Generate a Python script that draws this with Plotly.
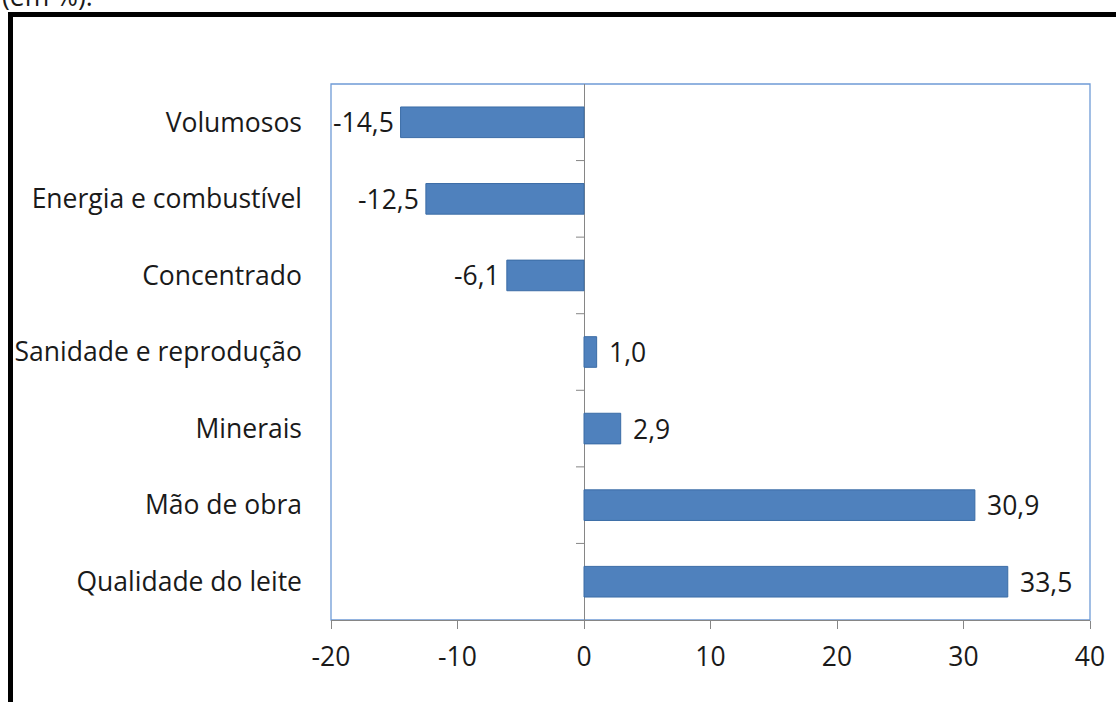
import plotly.graph_objects as go

categories = ["Volumosos", "Energia e combustível", "Concentrado",
              "Sanidade e reprodução", "Minerais", "Mão de obra", "Qualidade do leite"]
values = [-14.5, -12.5, -6.1, 1.0, 2.9, 30.9, 33.5]
x_ticks = [-20, -10, 0, 10, 20, 30, 40]

FONT = "Open Sans"
FS = 26.5
BAR = "#4F81BD"
BAR_EDGE = "#3B6CA6"
AXIS = "#868686"
BORDER = "#6F9BD6"
TXT = "#1a1a1a"

W, H = 1116, 702
L, R, T, B = 331, 26, 84, 82
pw, ph = W - L - R, H - T - B

def px_x(p):
    return (p - L) / pw

def px_y(p):
    return 1 - (p - T) / ph

fig = go.Figure()
fig.add_trace(go.Bar(
    x=values, y=categories, orientation="h",
    marker=dict(color=BAR, line=dict(color=BAR_EDGE, width=1)),
    width=0.4, hoverinfo="skip",
))

annotations = []
for c, v in zip(categories, values):
    txt = f"{v:.1f}".replace(".", ",")
    annotations.append(dict(
        x=v, y=c, xref="x", yref="y", text=txt, showarrow=False,
        xanchor="left" if v > 0 else "right", xshift=10 if v > 0 else -5,
        font=dict(family=FONT, size=FS, color=TXT),
    ))
annotations.append(dict(
    x=px_x(0), y=px_y(-4), xref="paper", yref="paper", text="(em %).",
    showarrow=False, xanchor="left", yanchor="middle",
    font=dict(family=FONT, size=FS, color=TXT),
))

shapes = [
    # plot area border
    dict(type="rect", xref="paper", yref="paper", x0=0, x1=1, y0=0, y1=1,
         line=dict(color=BORDER, width=1.3), layer="below"),
    # outer thick frame
    dict(type="rect", xref="paper", yref="paper",
         x0=px_x(10.5), x1=px_x(1130), y0=px_y(720), y1=px_y(14.5),
         line=dict(color="black", width=5), fillcolor="rgba(0,0,0,0)", layer="below"),
]
# category-axis tick marks on the zero line, at band boundaries
for k in range(len(categories) - 1):
    shapes.append(dict(type="line", xref="x", yref="y", xsizemode="pixel", xanchor=0,
                       x0=-8, x1=0, y0=k + 0.5, y1=k + 0.5,
                       line=dict(color=AXIS, width=1)))

fig.update_layout(
    width=W, height=H,
    margin=dict(l=L, r=R, t=T, b=B),
    paper_bgcolor="white", plot_bgcolor="white",
    showlegend=False, bargap=0.6,
    font=dict(family=FONT, size=FS, color=TXT),
    xaxis=dict(range=[-20, 40], tickvals=x_ticks, ticktext=[str(t) for t in x_ticks],
               showgrid=False, zeroline=True, zerolinecolor=AXIS, zerolinewidth=1,
               showline=True, linecolor=AXIS, linewidth=1,
               ticks="outside", ticklen=8, tickcolor=AXIS, ticklabelstandoff=5,
               tickfont=dict(family=FONT, size=FS, color=TXT), fixedrange=True),
    yaxis=dict(categoryorder="array", categoryarray=categories, autorange="reversed",
               showgrid=False, zeroline=False, showline=False, ticks="",
               ticklabelstandoff=28,
               tickfont=dict(family=FONT, size=FS, color=TXT), fixedrange=True),
    annotations=annotations, shapes=shapes,
)

fig.write_html("out.html")
